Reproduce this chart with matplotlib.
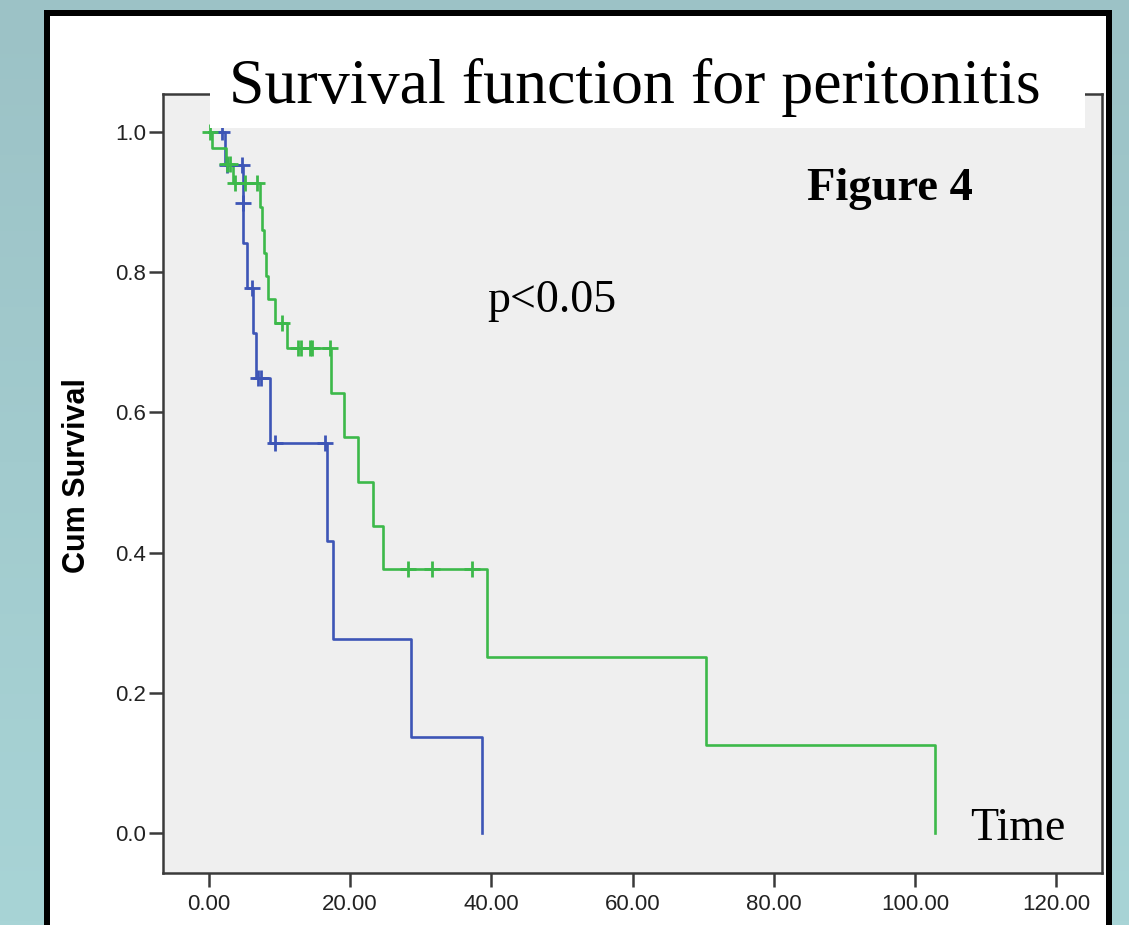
import numpy as np
import matplotlib
matplotlib.use("Agg")
import matplotlib.pyplot as plt
from matplotlib.patches import Rectangle

# ---------------- data ----------------
blue_times = [0.0, 2.3, 4.8, 4.9, 5.4, 6.2, 6.7, 8.6, 16.7, 17.6, 28.6, 38.7]
blue_surv = [1.0, 0.953, 0.899, 0.842, 0.777, 0.713, 0.649, 0.556, 0.417, 0.277, 0.137, 0.0]
blue_censor = [1.9, 2.6, 4.7, 4.8, 6.1, 6.9, 7.4, 9.3, 16.4]

green_times = [0.0, 0.4, 2.4, 3.4, 7.2, 7.5, 7.8, 8.1, 8.4, 9.3, 11.0, 17.3, 19.1,
               21.1, 23.2, 24.6, 39.4, 70.4, 102.8]
green_surv = [1.0, 0.977, 0.954, 0.927, 0.893, 0.860, 0.827, 0.794, 0.762, 0.728,
              0.692, 0.628, 0.565, 0.500, 0.438, 0.377, 0.251, 0.126, 0.0]
green_censor = [0.1, 2.6, 3.0, 3.7, 5.1, 6.8, 10.3, 12.6, 13.0, 14.3, 14.6, 17.1,
                28.2, 31.6, 37.3]

x_ticks = [0, 20, 40, 60, 80, 100, 120]
y_ticks = [0.0, 0.2, 0.4, 0.6, 0.8, 1.0]

title_text = "Survival function for peritonitis"
ylabel_text = "Cum Survival"
fig_label = "Figure 4"
p_label = "p<0.05"
time_label = "Time"

BLUE = "#3d55b6"
GREEN = "#3cb94a"

W, H = 1129, 925
fig = plt.figure(figsize=(W / 100, H / 100), dpi=100)

# background gradient (teal)
bg = fig.add_axes([0, 0, 1, 1], zorder=-20)
top_c = np.array([156, 194, 198]) / 255
bot_c = np.array([168, 212, 214]) / 255
grad = np.linspace(0, 1, 256)[:, None, None]
img = top_c * (1 - grad) + bot_c * grad
bg.imshow(img, aspect="auto", extent=[0, 1, 0, 1])
bg.set_axis_off()

# black framed white panel
fig.add_artist(Rectangle((47 / W, -0.05), (1108.5 - 47) / W, 1.05 - 13 / H,
                         transform=fig.transFigure, facecolor="white",
                         edgecolor="black", linewidth=6 * 0.72, zorder=-10))

# main axes
ax = fig.add_axes([163 / W, 1 - 873 / H, (1102 - 163) / W, (873 - 94) / H], zorder=0)
ax.set_facecolor("#efefef")
ax.set_xlim(-6.5, 126.5)
ax.set_ylim(-0.057, 1.054)

def step_value(times, surv, t):
    idx = np.searchsorted(times, t, side="right") - 1
    return np.asarray(surv)[idx]

for times, surv, cens, col in [(blue_times, blue_surv, blue_censor, BLUE),
                               (green_times, green_surv, green_censor, GREEN)]:
    ax.step(times, surv, where="post", color=col, linewidth=1.9, zorder=3)
    cy = step_value(np.array(times), surv, np.array(cens))
    ax.plot(cens, cy, linestyle="none", marker="+", markersize=11,
            markeredgewidth=2.0, color=col, zorder=4)

ax.set_xticks(x_ticks)
ax.set_xticklabels([f"{v:.2f}" for v in x_ticks])
ax.set_yticks(y_ticks)
ax.set_yticklabels([f"{v:.1f}" for v in y_ticks])
for sp in ax.spines.values():
    sp.set_color("#3a3a3a")
    sp.set_linewidth(1.8)
ax.tick_params(axis="both", direction="out", length=10, width=1.8, color="#3a3a3a",
               labelcolor="#222222", labelsize=16)
ax.tick_params(axis="x", pad=5)
ax.tick_params(axis="y", pad=2)
for lab in ax.get_xticklabels() + ax.get_yticklabels():
    lab.set_family("Liberation Sans")

# annotations inside the plot
serif = "Liberation Serif"
ax.text(96.5, 0.903, fig_label, ha="center", va="baseline", fontsize=33.5,
        fontweight="bold", family=serif, zorder=6)
ax.text(48.6, 0.743, p_label, ha="center", va="baseline", fontsize=33,
        family=serif, zorder=6)
ax.text(114.6, -0.01, time_label, ha="center", va="baseline", fontsize=33,
        family=serif, zorder=6)

# title white box covering the top spine
fig.add_artist(Rectangle((210 / W, 1 - 128 / H), (1085 - 210) / W, (128 - 16) / H,
                         transform=fig.transFigure, facecolor="white",
                         edgecolor="none", zorder=5))
fig.text(635 / W, 1 - 103 / H, title_text, ha="center", va="baseline",
         fontsize=46, family=serif, zorder=6)

# y label
fig.text(77 / W, 1 - 476 / H, ylabel_text, rotation=90, ha="center", va="center",
         fontsize=22, fontweight="bold", family="Liberation Sans", zorder=6)

fig.savefig("out.png", dpi=100)
